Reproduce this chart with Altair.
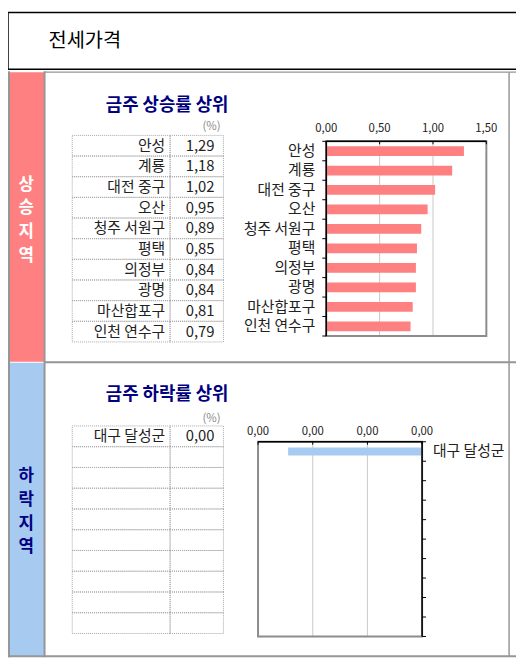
import altair as alt
import pandas as pd

# weekly top movers (jeonse price, %)
rise_names = ["안성", "계룡", "대전 중구", "오산", "청주 서원구", "평택", "의정부", "광명", "마산합포구", "인천 연수구"]
rise_values = [1.29, 1.18, 1.02, 0.95, 0.89, 0.85, 0.84, 0.84, 0.81, 0.79]
fall_names = ["대구 달성군"]
fall_values = [0.00245]
rise_ticks = [0.0, 0.5, 1.0, 1.5]
fall_ticks = [0.0, 0.001, 0.002, 0.003]
ROWS = 10

FONT = "Noto Sans CJK KR"
RED = "#FF8080"
BLUE = "#A6CAF0"
NAVY = "#000080"
FRAME = "#8C8C8C"
SIDE = "#969696"
GRID = "#C8C8C8"
INK = "#222222"

ONE = alt.Data(values=[{"k": 0}])


def comma(v):
    return f"{v:.2f}".replace(".", ",")


def rect(x, x2, y, y2, **mark):
    return alt.Chart(ONE).mark_rect(**mark).encode(
        x=alt.value(x), x2=alt.value(x2), y=alt.value(y), y2=alt.value(y2))


def line(x, x2, y, y2, color, width=1.0):
    return alt.Chart(ONE).mark_rule(color=color, strokeWidth=width).encode(
        x=alt.value(x), x2=alt.value(x2), y=alt.value(y), y2=alt.value(y2))


def label(text, x, y, size, **mark):
    return alt.Chart(ONE).mark_text(text=text, font=FONT, fontSize=size, **mark).encode(
        x=alt.value(x), y=alt.value(y))


def table(names, values, top, bottom):
    n = len(names)
    df = pd.DataFrame({
        "rank": list(range(1, ROWS + 1)),
        "name": names + [""] * (ROWS - n),
        "label": [comma(v) for v in values] + [""] * (ROWS - n),
    })
    rows = alt.Scale(type="band", domain=list(range(1, ROWS + 1)), range=[top, bottom],
                     paddingInner=0, paddingOuter=0)
    base = alt.Chart(df)
    out = []
    for x0, x1 in [(65, 164), (164, 218)]:
        out.append(base.mark_rect(fill="transparent", stroke="#A8A8A8", strokeDash=[1, 1], strokeWidth=1)
                   .encode(x=alt.value(x0), x2=alt.value(x1), y=alt.Y("rank:O", scale=rows, axis=None)))
    y_text = alt.Y("rank:O", scale=rows, axis=None, bandPosition=0.5)
    out.append(base.mark_text(align="right", baseline="middle", font=FONT, fontSize=15, color=INK)
               .encode(x=alt.value(159), y=y_text, text="name:N"))
    out.append(base.mark_text(align="right", baseline="middle", font=FONT, fontSize=15, color=INK)
               .encode(x=alt.value(209), y=y_text, text="label:N"))
    return out


def bar_panel(names, values, ticks, color, x_lo, x_hi, reverse, y_top, y_bot, pad,
              cat_x, cat_dx, label_x, label_align, tick_label_y):
    xs = alt.Scale(domain=[ticks[0], ticks[-1]], range=[x_lo, x_hi], reverse=reverse, nice=False)
    ranks = list(range(1, ROWS + 1))
    bars = pd.DataFrame({"rank": ranks[:len(values)], "value": values, "name": names})
    tick_df = pd.DataFrame({"t": ticks, "lab": [comma(t) for t in ticks]})
    bound_df = pd.DataFrame({"k": list(range(ROWS + 1))})
    bar_y = alt.Scale(type="band", domain=ranks, range=[y_top, y_bot], paddingInner=pad, paddingOuter=pad / 2)
    lab_y = alt.Scale(type="band", domain=ranks, range=[y_top, y_bot], paddingInner=0, paddingOuter=0)
    bound_y = alt.Scale(domain=[0, ROWS], range=[y_top, y_bot], nice=False, zero=False)
    x_enc = lambda f: alt.X(f, scale=xs, axis=None)
    return [
        alt.Chart(tick_df.iloc[1:-1]).mark_rule(color=GRID, strokeWidth=1)
        .encode(x=x_enc("t:Q"), y=alt.value(y_top), y2=alt.value(y_bot)),
        alt.Chart(bars).mark_bar(color=color)
        .encode(x=x_enc("value:Q"), y=alt.Y("rank:O", scale=bar_y, axis=None)),
        rect(x_lo, x_hi, y_top, y_bot, fill="transparent", stroke=FRAME, strokeWidth=2),
        line(x_lo, x_hi, y_top, y_top, "black", 1.5),
        alt.Chart(tick_df).mark_rule(color="black", strokeWidth=1)
        .encode(x=x_enc("t:Q"), y=alt.value(y_top), y2=alt.value(y_top + 3)),
        line(cat_x, cat_x, y_top, y_bot, "black", 1.5),
        alt.Chart(bound_df).mark_rule(color="black", strokeWidth=1)
        .encode(x=alt.value(cat_x), x2=alt.value(cat_x + cat_dx),
                y=alt.Y("k:Q", scale=bound_y, axis=None)),
        alt.Chart(tick_df).mark_text(font=FONT, fontSize=11.5, color=INK, baseline="middle")
        .encode(x=x_enc("t:Q"), y=alt.value(tick_label_y), text="lab:N"),
        alt.Chart(bars).mark_text(font=FONT, fontSize=15, color=INK, align=label_align, baseline="middle")
        .encode(x=alt.value(label_x), y=alt.Y("rank:O", scale=lab_y, axis=None, bandPosition=0.5), text="name:N"),
    ]


layers = [
    # page frame and side bands
    rect(0, 520, 0.75, 58, fill="white", stroke="black", strokeWidth=1.5),
    label("전세가격", 41, 30, 20, align="left", baseline="middle", color="black"),
    rect(0, 37, 61, 354, fill=RED),
    rect(0, 37, 355, 652, fill=BLUE),
    line(37, 520, 61, 61, SIDE, 1.5),
    line(37, 520, 354.5, 354.5, SIDE, 2),
    line(0, 520, 652, 652, SIDE, 2),
    line(1, 1, 60, 653, SIDE, 2),
    line(37, 37, 60, 653, SIDE, 2),
    line(507, 507, 61, 652, SIDE, 1.5),
    label("상\n승\n지\n역", 18.5, 175, 17, lineBreak="\n", lineHeight=24, fontWeight="bold",
          color="white", align="center", baseline="middle"),
    label("하\n락\n지\n역", 18.5, 470, 17, lineBreak="\n", lineHeight=24, fontWeight="bold",
          color=NAVY, align="center", baseline="middle"),
    # section headings
    label("금주 상승률 상위", 99, 95, 18, fontWeight="bold", color=NAVY, align="left", baseline="middle"),
    label("금주 하락률 상위", 99, 388, 18, fontWeight="bold", color=NAVY, align="left", baseline="middle"),
    label("(%)", 206, 117, 11.5, color="#888888", align="center", baseline="middle"),
    label("(%)", 206, 412, 11.5, color="#888888", align="center", baseline="middle"),
]
layers += table(rise_names, rise_values, 125, 334)
layers += table(fall_names, fall_values, 419, 629)
layers += bar_panel(rise_names, rise_values, rise_ticks, RED, 322, 484, False, 131, 328, 0.5,
                    322, -4, 311, "right", 119)
layers += bar_panel(fall_names, fall_values, fall_ticks, BLUE, 253, 419, True, 435, 632, 0.6,
                    419, 4, 430, "left", 425)

chart = (
    alt.layer(*layers)
    .resolve_scale(x="independent", y="independent")
    .properties(width=514, height=658, padding=0, autosize=alt.AutoSizeParams(type="none"))
    .configure_view(stroke=None)
)

chart.save("out.html", embed_options={"renderer": "svg", "actions": False})
